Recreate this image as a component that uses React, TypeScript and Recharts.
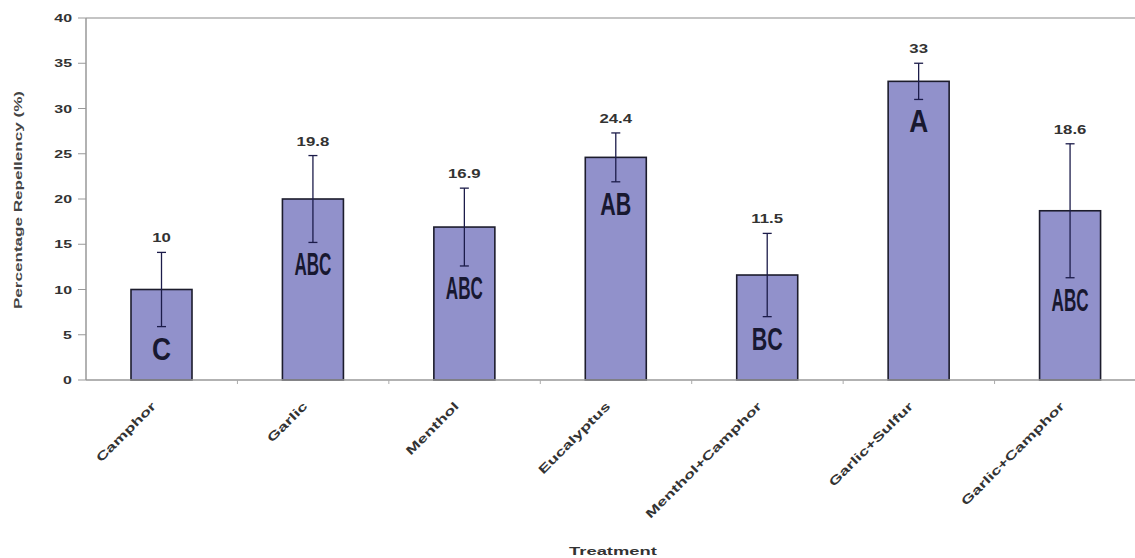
import React from "react";
import { BarChart, Bar, XAxis, YAxis, ErrorBar, ReferenceLine } from "recharts";

const categories = ["Camphor", "Garlic", "Menthol", "Eucalyptus", "Menthol+Camphor", "Garlic+Sulfur", "Garlic+Camphor"];
const repellency = [10, 20, 16.9, 24.6, 11.6, 33, 18.7];
const errors = [4.1, 4.8, 4.3, 2.7, 4.6, 2.0, 7.4];
const meanLabels = ["10", "19.8", "16.9", "24.4", "11.5", "33", "18.6"];
const groupLetters = ["C", "ABC", "ABC", "AB", "BC", "A", "ABC"];
const yTicks = [0, 5, 10, 15, 20, 25, 30, 35, 40];

const data = categories.map((name, i) => ({
  name,
  value: repellency[i],
  err: errors[i],
  mean: meanLabels[i],
  letter: groupLetters[i],
}));

const FONT = "'Liberation Sans', Arial, sans-serif";
const CHART_W = 1160;
const CHART_H = 558;
const MARGIN = { top: 18, right: 14, left: 0, bottom: 0 };
const Y_W = 86;
const PLOT_W = CHART_W - MARGIN.right - MARGIN.left - Y_W;
const BAND = PLOT_W / categories.length;
const LETTER_LEN = [0, 19, 31, 37];

const BarShape = (props: any) => {
  const { x, y, width, height } = props;
  const p = props.payload || props;
  const ppu = height / p.value;
  const errTop = y - p.err * ppu;
  const errBottom = y + p.err * ppu;
  const cx = x + width / 2;
  return (
    <g>
      <rect x={x} y={y} width={width} height={height} fill="#9191cb" stroke="#1c1c2c" strokeWidth={1.6} />
      <text
        transform={`translate(${cx},${errTop - 10}) scale(1.4,1)`}
        textAnchor="middle"
        fontSize={12}
        fontWeight="bold"
        fontFamily={FONT}
        fill="#333"
      >
        {p.mean}
      </text>
      <text
        x={cx}
        y={errBottom + 33}
        textAnchor="middle"
        fontSize={31}
        fontWeight="bold"
        fontFamily={FONT}
        fill="#181830"
        textLength={LETTER_LEN[p.letter.length]}
        lengthAdjust="spacingAndGlyphs"
      >
        {p.letter}
      </text>
    </g>
  );
};

const YTick = (props: any) => {
  const { x, y, payload } = props;
  return (
    <text
      transform={`translate(${x},${y + 4}) scale(1.45,1)`}
      textAnchor="end"
      fontSize={11}
      fontWeight="bold"
      fontFamily={FONT}
      fill="#333"
    >
      {payload.value}
    </text>
  );
};

const XTick = (props: any) => {
  const { x, y, payload } = props;
  return (
    <g>
      <line x1={x + BAND / 2} y1={y} x2={x + BAND / 2} y2={y + 4} stroke="#aaa" strokeWidth={1} />
      <text
        transform={`translate(${x - 5},${y + 27}) rotate(-45) scale(1.5,1)`}
        textAnchor="end"
        fontSize={12}
        fontWeight="bold"
        fontFamily={FONT}
        fill="#333"
      >
        {payload.value}
      </text>
    </g>
  );
};

const XTitle = (props: any) => {
  const vb = props.viewBox || { x: 86, y: 380, width: 1060 };
  return (
    <text
      x={vb.x + vb.width / 2 - 3}
      y={555}
      textAnchor="middle"
      fontSize={11}
      fontWeight="bold"
      fontFamily={FONT}
      fill="#333"
      textLength={88}
      lengthAdjust="spacingAndGlyphs"
    >
      Treatment
    </text>
  );
};

const YTitle = () => (
  <text
    transform="translate(22,200) rotate(-90)"
    textAnchor="middle"
    fontSize={11}
    fontWeight="bold"
    fontFamily={FONT}
    fill="#444"
    textLength={218}
    lengthAdjust="spacingAndGlyphs"
  >
    Percentage Repellency (%)
  </text>
);

export default function App() {
  return (
    <div
      style={{
        position: "fixed",
        left: 0,
        top: 0,
        width: 1135,
        height: 558,
        overflow: "hidden",
        background: "#fff",
      }}
    >
      <BarChart width={CHART_W} height={CHART_H} data={data} margin={MARGIN}>
        <ReferenceLine y={40} stroke="#b0b0b0" strokeWidth={1.5} />
        <YAxis
          type="number"
          domain={[0, 40]}
          ticks={yTicks}
          width={Y_W}
          interval={0}
          axisLine={{ stroke: "#999", strokeWidth: 1.5 }}
          tickLine={{ stroke: "#999" }}
          tickSize={8}
          tickMargin={6}
          tick={<YTick />}
          label={<YTitle />}
        />
        <XAxis
          dataKey="name"
          height={CHART_H - 380}
          interval={0}
          axisLine={{ stroke: "#999", strokeWidth: 1.5 }}
          tickLine={false}
          tickSize={0}
          tickMargin={0}
          tick={<XTick />}
          label={<XTitle />}
        />
        <Bar dataKey="value" barSize={61} shape={<BarShape />} isAnimationActive={false}>
          <ErrorBar dataKey="err" width={4.5} stroke="#1c1c4a" strokeWidth={1.3} direction="y" isAnimationActive={false} />
        </Bar>
      </BarChart>
    </div>
  );
}
